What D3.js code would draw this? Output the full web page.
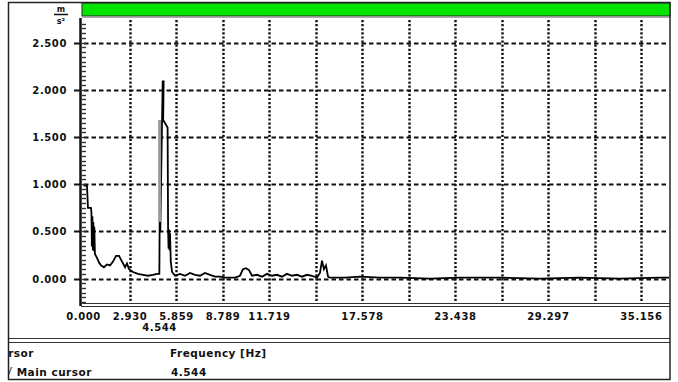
<!DOCTYPE html>
<html>
<head>
<meta charset="utf-8">
<script src="https://cdn.jsdelivr.net/npm/d3@7"></script>
<style>
    body { margin: 0; background: #fff; }
    text { font-family: "DejaVu Sans", Verdana, sans-serif; font-weight: bold; fill: #111; }
</style>
</head>
<body>
<svg id="chart" width="678" height="382"></svg>
<script>
// spectrum: frequency [Hz] / amplitude [m/s2]
var freqs = [0.0, 0.22, 0.28, 0.47, 0.50, 0.53, 0.56, 0.59, 0.62, 0.65, 0.68, 0.72, 0.85, 0.98, 1.10, 1.29,
    1.48, 1.67, 1.86, 2.05, 2.24, 2.43, 2.62, 2.74, 2.87, 3.12, 3.43, 3.75, 4.06, 4.38, 4.63, 4.78, 4.80,
    4.84, 4.99, 5.05, 5.02, 5.30, 5.33, 5.36, 5.39, 5.42, 5.45, 5.50, 5.58, 5.77, 6.08, 6.40, 6.71, 7.03,
    7.34, 7.66, 7.97, 8.29, 8.60, 8.91, 9.23, 9.55, 9.86, 10.05, 10.24, 10.43, 10.62, 10.93, 11.25, 11.56,
    11.88, 12.19, 12.51, 12.82, 13.14, 13.45, 13.77, 14.08, 14.40, 14.71, 14.90, 15.03, 15.15, 15.28,
    15.41, 15.53, 15.85, 16.48, 17.42, 18.68, 19.94, 21.83, 23.72, 26.24, 28.76, 31.29, 33.81, 36.33, 36.96];
var amps = [0.985, 0.985, 0.75, 0.75, 0.70, 0.34, 0.66, 0.30, 0.60, 0.29, 0.55, 0.26, 0.22, 0.17, 0.14, 0.12,
    0.15, 0.14, 0.18, 0.24, 0.24, 0.18, 0.12, 0.16, 0.10, 0.07, 0.05, 0.04, 0.03, 0.04, 0.05, 0.05, 0.62,
    0.50, 2.09, 2.09, 1.68, 1.60, 0.55, 0.32, 0.52, 0.30, 0.48, 0.18, 0.07, 0.03, 0.05, 0.03, 0.06, 0.04,
    0.03, 0.06, 0.04, 0.02, 0.02, 0.01, 0.01, 0.01, 0.03, 0.10, 0.11, 0.09, 0.03, 0.04, 0.02, 0.05,
    0.03, 0.04, 0.02, 0.05, 0.03, 0.04, 0.02, 0.04, 0.03, 0.01, 0.06, 0.19, 0.10, 0.14,
    0.02, 0.01, 0.01, 0.01, 0.02, 0.01, 0.01, 0.0, 0.01, 0.01, 0.0, 0.01, 0.0, 0.01, 0.01];

var xGridStep = 2.9297;
var xTickValues = [0, 2.9297, 5.8594, 8.7891, 11.7188, 17.5781, 23.4375, 29.2969, 35.1563];
var xTickLabels = ["0.000", "2.930", "5.859", "8.789", "11.719", "17.578", "23.438", "29.297", "35.156"];
var yTickValues = [0, 0.5, 1.0, 1.5, 2.0, 2.5];
var yTickLabels = ["0.000", "0.500", "1.000", "1.500", "2.000", "2.500"];
var cursorFreq = 4.544;
var cursorLabel = "4.544";
var tableHeader = ["Cursor", "Frequency [Hz]"];
var tableRow = ["\u221A Main cursor", "4.544"];

var svg = d3.select("#chart");

var x = d3.scaleLinear().domain([0, 36.96]).range([83.5, 670]);
var y = d3.scaleLinear().domain([-0.28, 2.74]).range([305, 20]);

svg.append("clipPath").attr("id", "frameClip")
    .append("rect").attr("x", 9).attr("y", 3).attr("width", 660).attr("height", 376);
svg.append("clipPath").attr("id", "plotClip")
    .append("rect").attr("x", 81).attr("y", 18).attr("width", 588).attr("height", 286);

// green status bar
svg.append("rect")
    .attr("x", 82).attr("y", 3).attr("width", 588).attr("height", 13)
    .attr("fill", "#00e400").attr("stroke", "#2a2a2a").attr("stroke-width", 1);
svg.append("line")
    .attr("x1", 82).attr("x2", 670).attr("y1", 17.5).attr("y2", 17.5)
    .attr("stroke", "#aaa");

// grid
var grid = svg.append("g").attr("clip-path", "url(#plotClip)");
var xGrid = d3.range(1, 13).map(function (i) { return i * xGridStep; });
grid.selectAll(".vgrid")
    .data(xGrid)
    .enter().append("line")
    .attr("class", "vgrid")
    .attr("x1", function (d) { return Math.round(x(d)) + 0.5; })
    .attr("x2", function (d) { return Math.round(x(d)) + 0.5; })
    .attr("y1", 20).attr("y2", 303)
    .attr("stroke", "#111").attr("stroke-width", 2.4)
    .attr("stroke-dasharray", "2.2,1.9");

grid.selectAll(".hgrid")
    .data(yTickValues)
    .enter().append("line")
    .attr("class", "hgrid")
    .attr("x1", 84).attr("x2", 670)
    .attr("y1", function (d) { return Math.round(y(d)) + 0.5; })
    .attr("y2", function (d) { return Math.round(y(d)) + 0.5; })
    .attr("stroke", "#111").attr("stroke-width", 2)
    .attr("stroke-dasharray", "4.5,3");

// cursor band
svg.append("line")
    .attr("x1", x(cursorFreq) + 4).attr("x2", x(cursorFreq) + 4)
    .attr("y1", y(1.68)).attr("y2", y(0.6))
    .attr("stroke", "#9a9a9a").attr("stroke-width", 3);

// spectrum
var pts = freqs.map(function (f, i) { return [f, amps[i]]; });
var line = d3.line()
    .x(function (d) { return x(d[0]); })
    .y(function (d) { return y(d[1]); });
grid.append("path")
    .datum(pts)
    .attr("d", line)
    .attr("fill", "none")
    .attr("stroke", "#000")
    .attr("stroke-width", 1.8)
    .attr("stroke-linejoin", "miter");

// y axis
svg.append("line")
    .attr("x1", 80.5).attr("x2", 80.5).attr("y1", 18).attr("y2", 306)
    .attr("stroke", "#111").attr("stroke-width", 2.5);

var minor = d3.range(-5, 55).map(function (i) { return i * 0.05; });
svg.selectAll(".ymin")
    .data(minor)
    .enter().append("line")
    .attr("class", "ymin")
    .attr("x1", 82).attr("x2", 86)
    .attr("y1", function (d) { return Math.round(y(d)) + 0.5; })
    .attr("y2", function (d) { return Math.round(y(d)) + 0.5; })
    .attr("stroke", "#333").attr("stroke-width", 1.4);

svg.selectAll(".ymaj")
    .data(yTickValues)
    .enter().append("line")
    .attr("class", "ymaj")
    .attr("x1", 74).attr("x2", 80)
    .attr("y1", function (d) { return Math.round(y(d)) + 0.5; })
    .attr("y2", function (d) { return Math.round(y(d)) + 0.5; })
    .attr("stroke", "#111").attr("stroke-width", 2);

svg.selectAll(".ylab")
    .data(yTickValues)
    .enter().append("text")
    .attr("class", "ylab")
    .attr("x", 67)
    .attr("y", function (d) { return y(d) + 4; })
    .attr("text-anchor", "end")
    .attr("font-size", "10px")
    .attr("letter-spacing", "0.6px")
    .text(function (d, i) { return yTickLabels[i]; });

// unit m/s2
svg.append("text").attr("x", 61).attr("y", 12).attr("text-anchor", "middle")
    .attr("font-size", "8px").text("m");
svg.append("line").attr("x1", 54).attr("x2", 68).attr("y1", 14.5).attr("y2", 14.5)
    .attr("stroke", "#111").attr("stroke-width", 1.5);
svg.append("text").attr("x", 61).attr("y", 24).attr("text-anchor", "middle")
    .attr("font-size", "8px").text("s\u00B2");

// x axis (double rule)
[303.5, 306.5].forEach(function (yy) {
    svg.append("line")
        .attr("x1", 81).attr("x2", 670).attr("y1", yy).attr("y2", yy)
        .attr("stroke", "#333").attr("stroke-width", 1.2);
});

svg.selectAll(".xlab")
    .data(xTickValues)
    .enter().append("text")
    .attr("class", "xlab")
    .attr("x", function (d) { return x(d); })
    .attr("y", 320)
    .attr("text-anchor", "middle")
    .attr("font-size", "10px")
    .attr("letter-spacing", "0.6px")
    .text(function (d, i) { return xTickLabels[i]; });

svg.append("text")
    .attr("x", x(cursorFreq) + 4).attr("y", 331)
    .attr("text-anchor", "middle")
    .attr("font-size", "10px")
    .attr("letter-spacing", "0.6px")
    .text(cursorLabel);

// cursor table
[338.5, 342.5].forEach(function (yy) {
    svg.append("line")
        .attr("x1", 8).attr("x2", 670).attr("y1", yy).attr("y2", yy)
        .attr("stroke", "#333").attr("stroke-width", 1.2);
});

var table = svg.append("g").attr("clip-path", "url(#frameClip)");
table.append("text").attr("x", -8).attr("y", 357).attr("font-size", "10.5px")
    .attr("letter-spacing", "0.5px").text(tableHeader[0]);
table.append("text").attr("x", 170).attr("y", 357).attr("font-size", "10.5px")
    .attr("letter-spacing", "0.5px").text(tableHeader[1]);
table.append("text").attr("x", 5).attr("y", 376).attr("font-size", "10.5px")
    .attr("letter-spacing", "0.5px").text(tableRow[0]);
table.append("text").attr("x", 171).attr("y", 376).attr("font-size", "10.5px")
    .attr("letter-spacing", "0.5px").text(tableRow[1]);

// outer frame
svg.append("rect")
    .attr("x", 8.5).attr("y", 2.5).attr("width", 661.5).attr("height", 377)
    .attr("fill", "none").attr("stroke", "#222").attr("stroke-width", 1.5);
</script>
</body>
</html>
